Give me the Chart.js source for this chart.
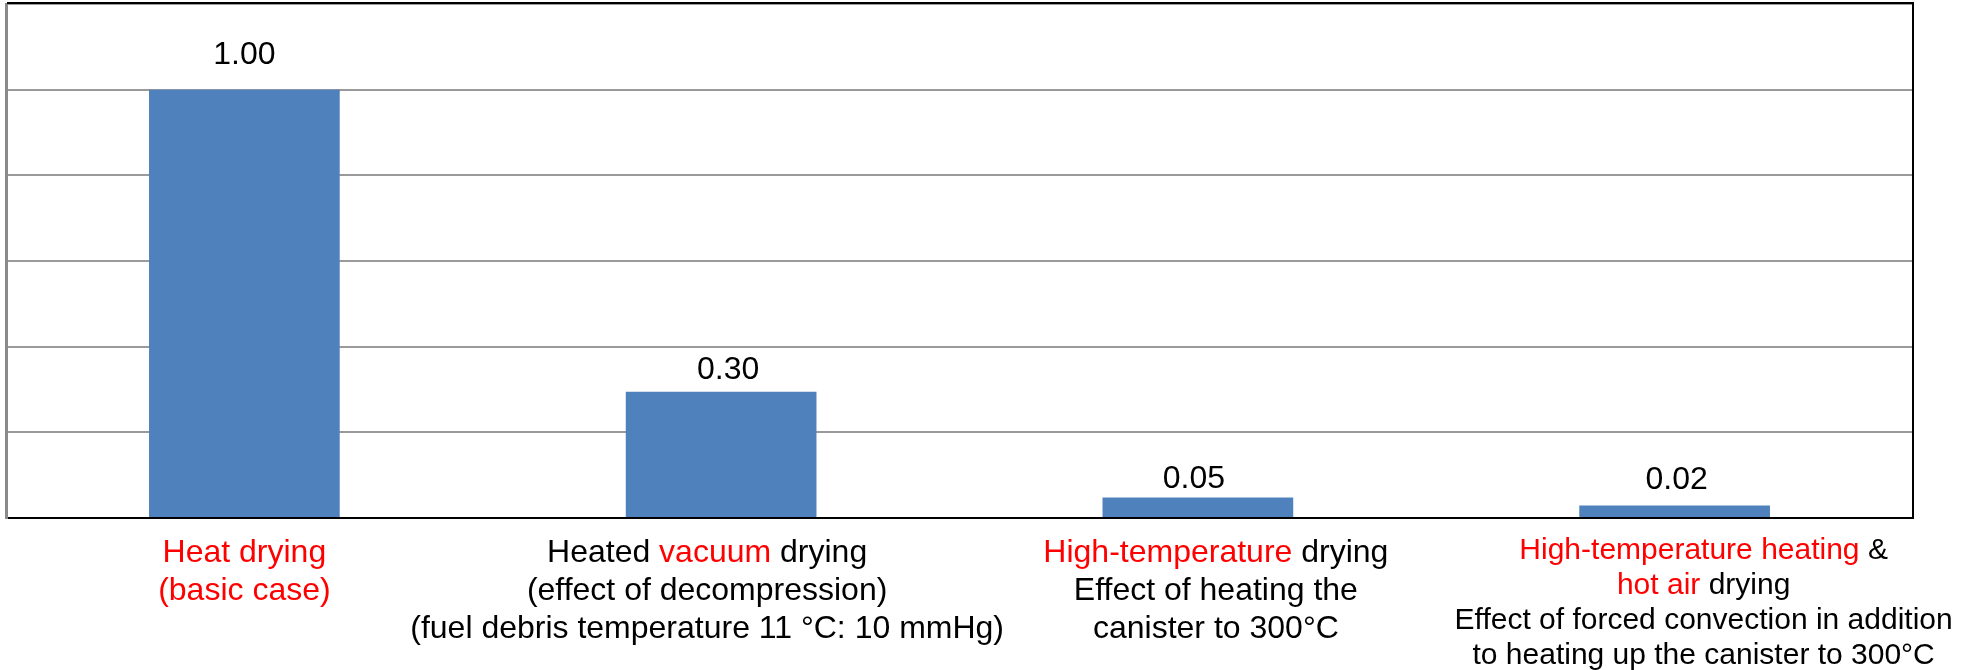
<!DOCTYPE html>
<html><head><meta charset="utf-8">
<script src="https://cdn.jsdelivr.net/npm/chart.js@4/dist/chart.umd.min.js"></script>
<style>html,body{margin:0;padding:0;background:#fff;overflow:hidden}#wrap{width:1972px;height:670px}</style>
</head><body><div id="wrap"><canvas id="c" width="1972" height="670"></canvas></div>
<script>
// ---- data ----
const categories = [
  ["Heat drying", "(basic case)"],
  ["Heated vacuum drying", "(effect of decompression)", "(fuel debris temperature 11 \u00B0C: 10 mmHg)"],
  ["High-temperature drying", "Effect of heating the", "canister to 300\u00B0C"],
  ["High-temperature heating &", "hot air drying", "Effect of forced convection in addition", "to heating up the canister to 300\u00B0C"]
];
const highlightedPhrases = [
  ["Heat drying", "(basic case)"],
  ["vacuum"],
  ["High-temperature"],
  ["High-temperature heating", "hot air"]
];
const dryingTimeRatio = [1.0, 0.295, 0.048, 0.029];
const valueLabels = ["1.00", "0.30", "0.05", "0.02"];
const yTicks = [0, 0.2, 0.4, 0.6, 0.8, 1.0, 1.2];

// ---- styling / layout (not data) ----
const FONT = '"Liberation Sans", Arial, sans-serif';
const labelDx = [0, 7, -4, 2];
const labelDy = [26, 13, 9, 17];
const catDx = [0, -14, 18, 29];
const catFontSize = [32, 32, 32, 30];
const catLineH = [38, 38, 38, 35];
const catFirstBase = [44, 44, 44, 41];

function splitSegments(line, phrases) {
  const segs = [];
  let rest = line;
  while (rest.length) {
    let best = -1, bestP = null;
    for (const p of phrases) {
      const i = rest.indexOf(p);
      if (i >= 0 && (best < 0 || i < best)) { best = i; bestP = p; }
    }
    if (best < 0) { segs.push([rest, '#000000']); break; }
    if (best > 0) segs.push([rest.slice(0, best), '#000000']);
    segs.push([bestP, '#FF0000']);
    rest = rest.slice(best + bestP.length);
  }
  return segs;
}

const decorPlugin = {
  id: 'decor',
  afterDraw(chart) {
    const ctx = chart.ctx, a = chart.chartArea;
    ctx.save();
    // top and right frame
    ctx.strokeStyle = '#000000';
    ctx.lineWidth = 2;
    ctx.beginPath();
    ctx.moveTo(a.left + 1, a.top - 1);
    ctx.lineTo(a.right, a.top - 1);
    ctx.moveTo(a.right, a.top - 2);
    ctx.lineTo(a.right, a.bottom + 1);
    ctx.stroke();
    // value labels
    const meta = chart.getDatasetMeta(0);
    ctx.textAlign = 'center';
    ctx.textBaseline = 'alphabetic';
    ctx.fillStyle = '#000000';
    ctx.font = '32px ' + FONT;
    meta.data.forEach((bar, i) => {
      ctx.fillText(valueLabels[i], bar.x + labelDx[i], bar.y - labelDy[i]);
    });
    // category labels with highlighted phrases
    const xs = chart.scales.x;
    ctx.textAlign = 'left';
    categories.forEach((lines, i) => {
      const cx = xs.getPixelForValue(i) + catDx[i];
      ctx.font = catFontSize[i] + 'px ' + FONT;
      lines.forEach((line, j) => {
        const segs = splitSegments(line, highlightedPhrases[i]);
        const total = segs.reduce((s, g) => s + ctx.measureText(g[0]).width, 0);
        let x = cx - total / 2;
        const y = a.bottom + catFirstBase[i] + j * catLineH[i];
        segs.forEach(g => {
          ctx.fillStyle = g[1];
          ctx.fillText(g[0], x, y);
          x += ctx.measureText(g[0]).width;
        });
      });
    });
    ctx.restore();
  }
};

new Chart(document.getElementById('c'), {
  type: 'bar',
  data: {
    labels: categories.map(l => l.join(' ')),
    datasets: [{
      data: dryingTimeRatio,
      backgroundColor: '#4F81BD',
      borderWidth: 0,
      categoryPercentage: 1.0,
      barPercentage: 0.4
    }]
  },
  options: {
    responsive: false,
    animation: false,
    devicePixelRatio: 1,
    layout: { padding: { left: 6, top: 4, right: 59, bottom: 152 } },
    plugins: { legend: { display: false }, tooltip: { enabled: false } },
    scales: {
      x: {
        grid: { display: false, drawTicks: false },
        border: { display: true, color: '#000000', width: 2 },
        ticks: { display: false }
      },
      y: {
        min: yTicks[0],
        max: yTicks[yTicks.length - 1],
        ticks: { display: false, stepSize: yTicks[1] - yTicks[0] },
        grid: {
          drawTicks: false,
          lineWidth: 2,
          color: c => (c.tick && c.tick.value === 0) ? 'rgba(0,0,0,0)' : '#9a9a9a'
        },
        border: { display: true, color: '#8a8a8a', width: 3 }
      }
    }
  },
  plugins: [decorPlugin]
});
</script>
</body></html>
